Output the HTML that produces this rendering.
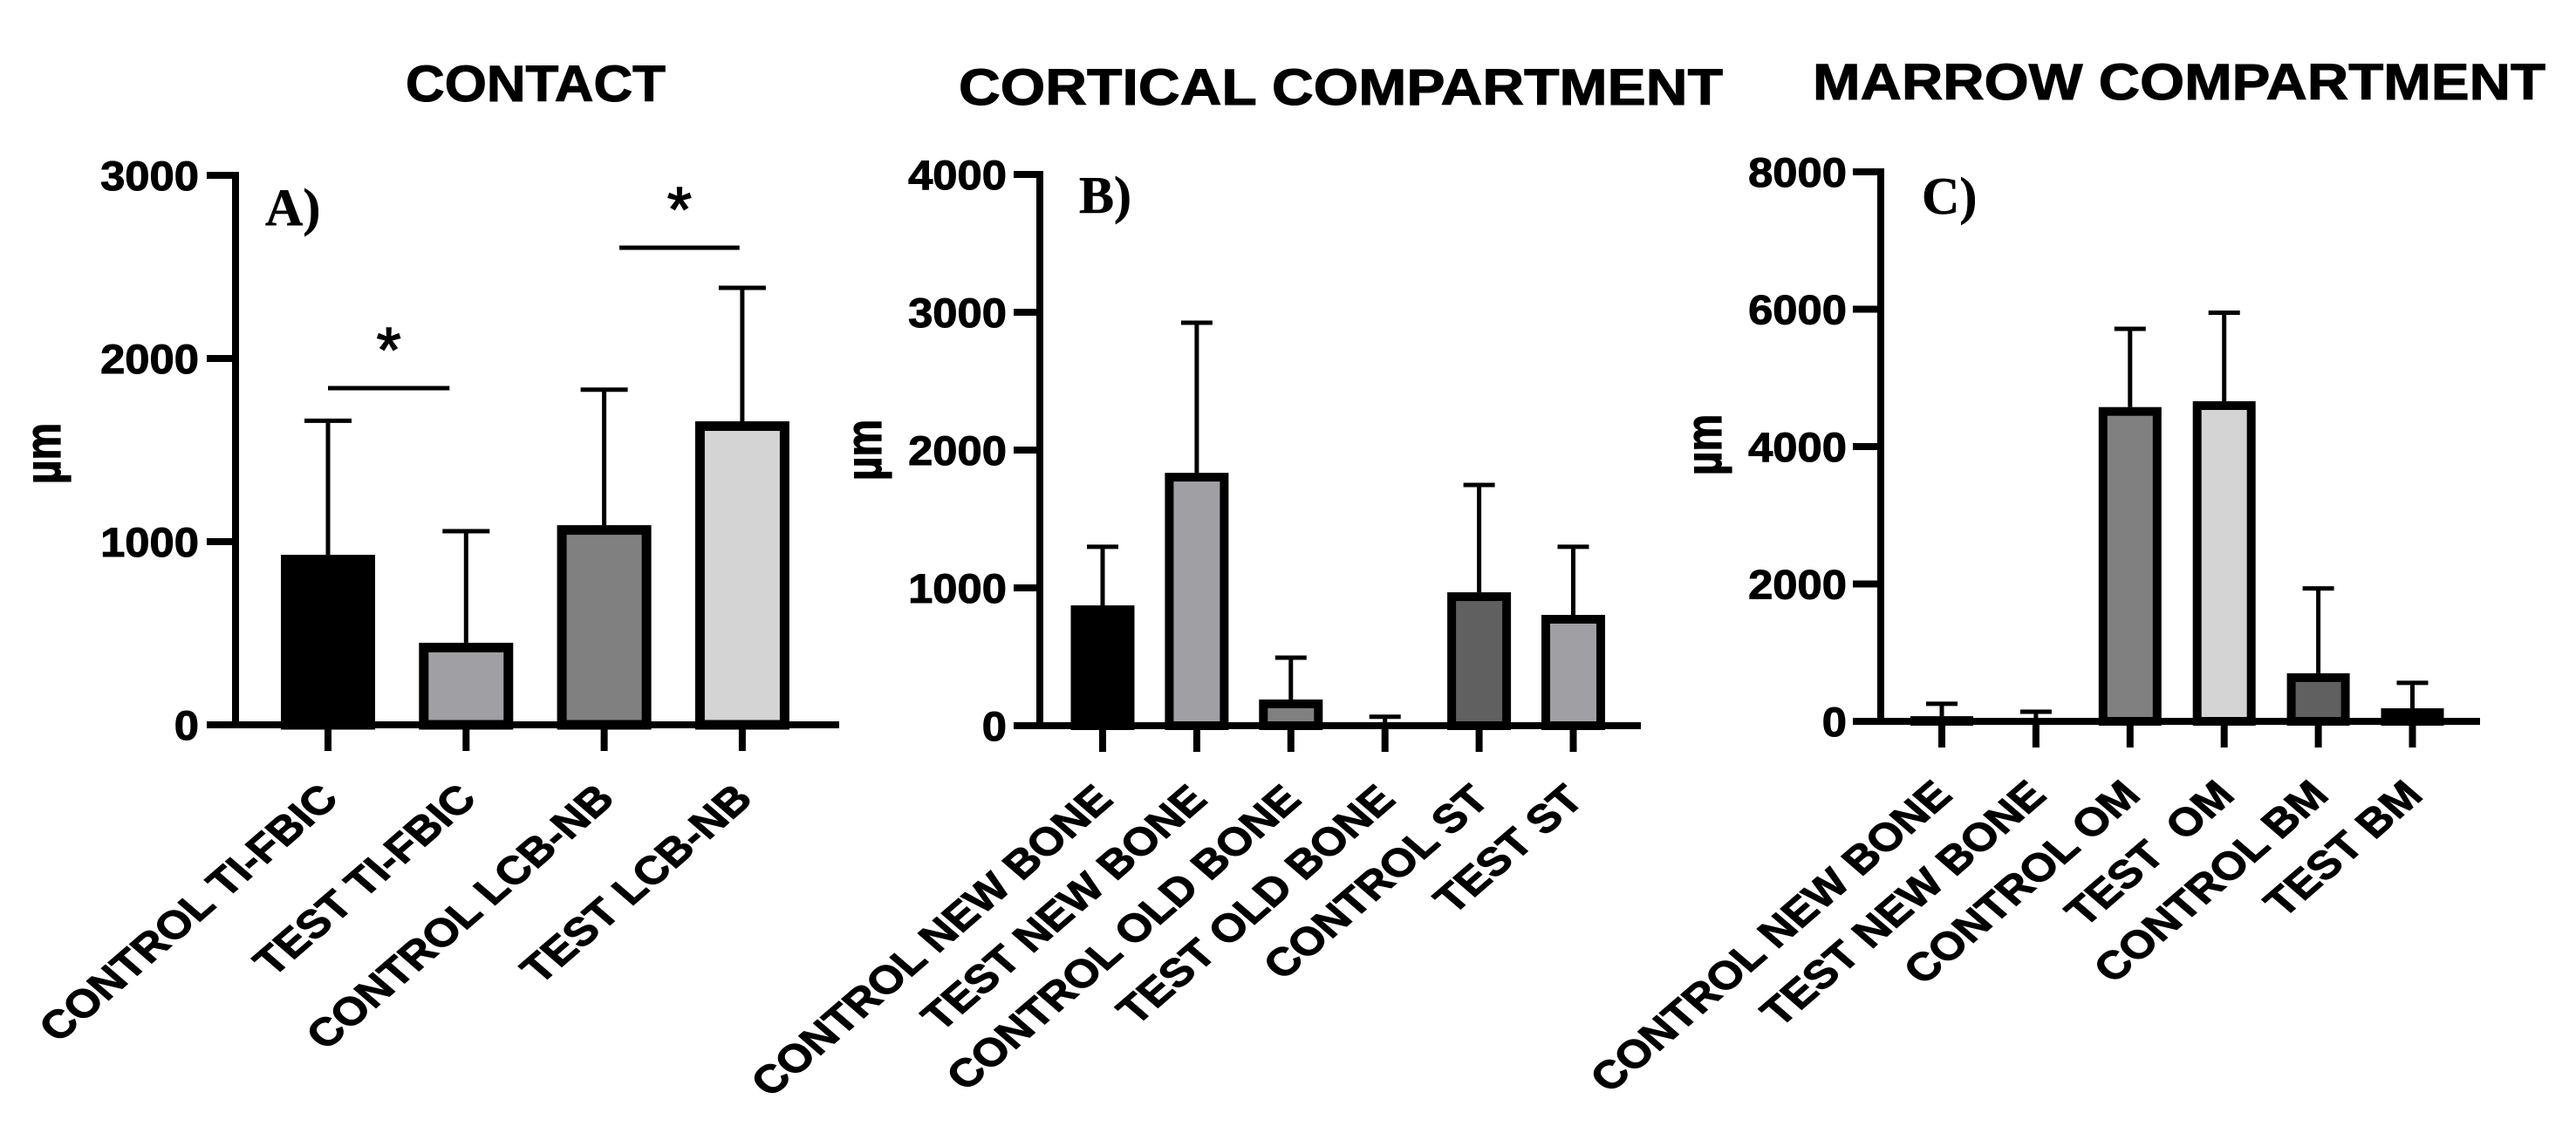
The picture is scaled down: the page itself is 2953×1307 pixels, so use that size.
<!DOCTYPE html>
<html lang="en">
<head>
<meta charset="utf-8">
<title>Contact, cortical and marrow compartment bar charts</title>
<style>
  html, body { margin: 0; padding: 0; background: #fff; }
  #figure { display: block; width: 2953px; height: 1307px; background: #fff; }
  text { font-family: "Liberation Sans", sans-serif; fill: #000; white-space: pre; }
  .bold { font-weight: 700; stroke: #000; stroke-width: 1px; }
  .panel-letter { font-family: "Liberation Serif", serif; font-weight: 700; font-size: 60px; stroke: #000; stroke-width: 0.6px; }
  .title { font-weight: 700; font-size: 58px; stroke: #000; stroke-width: 1px; }
  .star { stroke: #000; stroke-width: 1.5px; }
</style>
</head>
<body>
<svg id="figure" xmlns="http://www.w3.org/2000/svg" width="2953" height="1307" viewBox="0 0 2953 1307">
  <rect x="0" y="0" width="2953" height="1307" fill="#ffffff"></rect>
  <text class="title" x="465" y="116" textLength="298" lengthAdjust="spacingAndGlyphs">CONTACT</text>
  <text class="title" x="1099" y="120" textLength="876" lengthAdjust="spacingAndGlyphs">CORTICAL COMPARTMENT</text>
  <text class="title" x="2078" y="114" textLength="840" lengthAdjust="spacingAndGlyphs">MARROW COMPARTMENT</text>
  <text class="panel-letter" x="304" y="258">A)</text>
  <text class="panel-letter" x="1237" y="244">B)</text>
  <text class="panel-letter" x="2203" y="245">C)</text>
  <g id="panel-a"></g>
  <g id="panel-b"></g>
  <g id="panel-c"></g>
</svg>
<script>
// Panel A data
const contactCategories = ["CONTROL TI-FBIC", "TEST TI-FBIC", "CONTROL LCB-NB", "TEST LCB-NB"];
const contactMeans = [928, 448, 1090, 1657];
const contactErrors = [732, 609, 740, 729];
const contactTicks = [0, 1000, 2000, 3000];

// Panel B data
const corticalCategories = ["CONTROL NEW BONE", "TEST NEW BONE", "CONTROL OLD BONE", "TEST OLD BONE", "CONTROL ST", "TEST ST"];
const corticalMeans = [873, 1835, 190, 20, 968, 804];
const corticalErrors = [425, 1089, 304, 45, 779, 494];
const corticalTicks = [0, 1000, 2000, 3000, 4000];

// Panel C data
const marrowCategories = ["CONTROL NEW BONE", "TEST NEW BONE", "CONTROL OM", "TEST  OM", "CONTROL BM", "TEST BM"];
const marrowMeans = [75, 20, 4575, 4660, 700, 190];
const marrowErrors = [180, 120, 1140, 1290, 1235, 370];
const marrowTicks = [0, 2000, 4000, 6000, 8000];

// Significance annotations on panel A (category index span and value level)
const sigFrom = [0, 2.11];
const sigTo = [0.88, 2.98];
const sigLevels = [1838, 2605];

const SVG_NS = "http://www.w3.org/2000/svg";

function make(parent, tag, attrs) {
  const el = document.createElementNS(SVG_NS, tag);
  for (const k in attrs) el.setAttribute(k, attrs[k]);
  parent.appendChild(el);
  return el;
}

function drawPanel(cfg) {
  const root = document.getElementById(cfg.id);
  const maxTick = cfg.ticks[cfg.ticks.length - 1];
  const yScale = v => cfg.y0 - v * (cfg.y0 - cfg.yTop) / maxTick;
  const xScale = i => cfg.x0 + i * cfg.step;

  cfg.means.forEach((mean, i) => {
    const left = xScale(i) - cfg.barW / 2;
    const top = yScale(mean);
    const s = cfg.border;
    const err = yScale(mean + cfg.errors[i]);

    const stem = make(root, "line", { x1: xScale(i), x2: xScale(i), y1: top, y2: err, stroke: "#000", "stroke-width": 5 });
    
    

    const cap = make(root, "line", { x1: xScale(i) - cfg.capW / 2, x2: xScale(i) + cfg.capW / 2, y1: err, y2: err, stroke: "#000", "stroke-width": 5 });
    
    

    const h = Math.max(cfg.y0 - top, 0);
    const bar = make(root, "rect", {
      x: left + s / 2, y: top + s / 2,
      width: cfg.barW - s, height: Math.max(h - s / 2, 0),
      fill: cfg.fills[i], stroke: "#000", "stroke-width": s
    });
    
    

    const tick = make(root, "line", { x1: xScale(i), x2: xScale(i), y1: cfg.y0, y2: cfg.y0 + 30, stroke: "#000", "stroke-width": 8 });
    
    

    const label = make(root, "text", {
      class: "bold", "font-size": 45, "text-anchor": "end",
      transform: "translate(" + (xScale(i) + 14) + "," + (cfg.y0 + 87) + ") scale(1.16,1) rotate(-45)"
    });
    label.textContent = cfg.categories[i];
    
    
  });

  const yAxis = make(root, "line", { x1: cfg.axisX, x2: cfg.axisX, y1: yScale(maxTick) - 4, y2: cfg.y0 + 4, stroke: "#000", "stroke-width": 8 });
  
  

  const xAxis = make(root, "line", { x1: cfg.tickLeft, x2: cfg.axisEnd, y1: cfg.y0, y2: cfg.y0, stroke: "#000", "stroke-width": 8 });
  
  

  cfg.ticks.forEach(t => {
    const tick = make(root, "line", { x1: cfg.tickLeft, x2: cfg.axisX, y1: yScale(t), y2: yScale(t), stroke: "#000", "stroke-width": 8 });
    
    

    const label = make(root, "text", {
      class: "bold", "font-size": 47, "text-anchor": "end",
      transform: "translate(" + cfg.tickTextX + "," + (yScale(t) + 17) + ") scale(1.08,1)"
    });
    label.textContent = String(t);
    
    
  });

  const yTitle = make(root, "text", {
    class: "bold", "font-size": 48, "text-anchor": "middle",
    transform: "translate(" + cfg.yTitleX + "," + cfg.yTitleY + ") scale(1.2,1) rotate(-90)"
  });
  yTitle.textContent = "µm";
  
  

  return { xScale, yScale, root };
}

const panelA = drawPanel({
  id: "panel-a", categories: contactCategories, means: contactMeans, errors: contactErrors, ticks: contactTicks,
  fills: ["#000000", "#a0a0a4", "#808080", "#d4d4d4"],
  x0: 376, step: 158.3, barW: 108, capW: 54, border: 11,
  y0: 831, yTop: 201, axisX: 270, tickLeft: 237, axisEnd: 962, tickTextX: 228, yTitleX: 69, yTitleY: 520
});

drawPanel({
  id: "panel-b", categories: corticalCategories, means: corticalMeans, errors: corticalErrors, ticks: corticalTicks,
  fills: ["#000000", "#a0a0a4", "#808080", "#000000", "#606060", "#a0a0a4"],
  x0: 1264, step: 107.9, barW: 73, capW: 36, border: 10,
  y0: 832, yTop: 200, axisX: 1192, tickLeft: 1162, axisEnd: 1881, tickTextX: 1154, yTitleX: 1010, yTitleY: 516
});

drawPanel({
  id: "panel-c", categories: marrowCategories, means: marrowMeans, errors: marrowErrors, ticks: marrowTicks,
  fills: ["#000000", "#a0a0a4", "#808080", "#d4d4d4", "#606060", "#000000"],
  x0: 2226, step: 107.9, barW: 72, capW: 36, border: 10,
  y0: 827, yTop: 197, axisX: 2156, tickLeft: 2124, axisEnd: 2843, tickTextX: 2117, yTitleX: 1973, yTitleY: 510
});

sigLevels.forEach((level, i) => {
  const y = panelA.yScale(level);
  const x1 = panelA.xScale(sigFrom[i]);
  const x2 = panelA.xScale(sigTo[i]);

  const line = make(panelA.root, "line", { x1: x1, x2: x2, y1: y, y2: y, stroke: "#000", "stroke-width": 5 });
  
  

  const star = make(panelA.root, "text", { class: "star", x: (x1 + x2) / 2, y: y - 19, "font-size": 72, "text-anchor": "middle" });
  star.textContent = "*";
  
  
});
</script>
</body>
</html>
